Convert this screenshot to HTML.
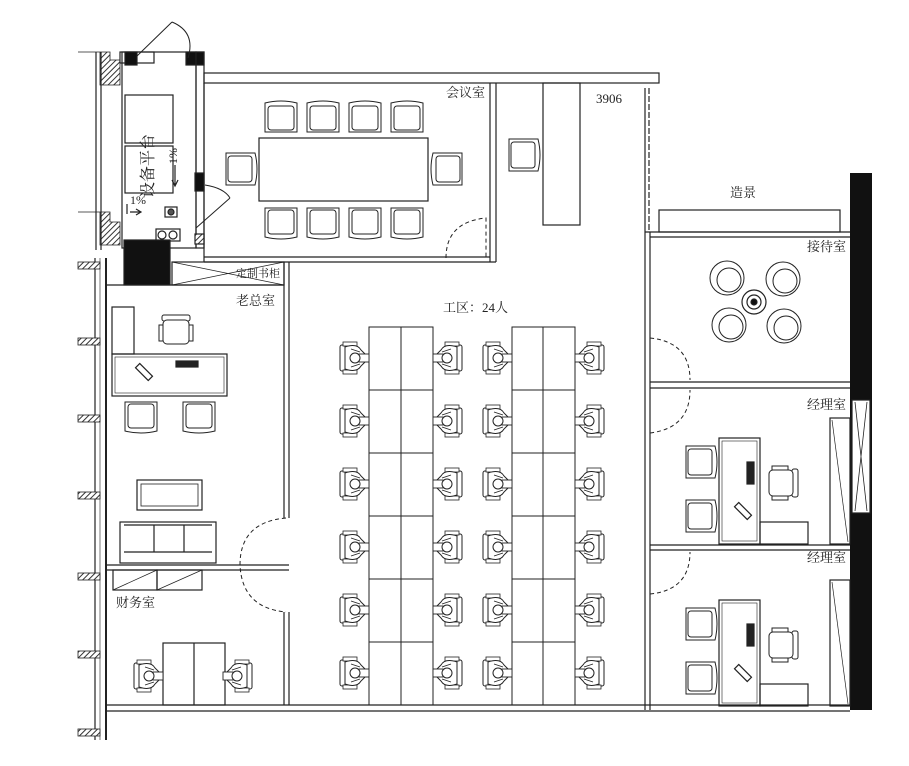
<!DOCTYPE html>
<html><head><meta charset="utf-8"><style>
html,body{margin:0;padding:0;background:#fff;}
svg{display:block;}
text{font-family:"Liberation Serif","Noto Serif CJK SC","Noto Sans CJK SC",serif;font-size:13px;fill:#222;}
</style></head><body>
<svg width="909" height="766" viewBox="0 0 909 766" xmlns="http://www.w3.org/2000/svg">
<defs>
<pattern id="h" width="4" height="4" patternUnits="userSpaceOnUse" patternTransform="rotate(45)"><rect width="4" height="4" fill="#fff"/><line x1="0" y1="0" x2="0" y2="4" stroke="#333" stroke-width="2"/></pattern>
<!-- person at desk, facing right -->
<g id="p">
<rect x="-17" y="-13" width="5" height="26" rx="2" fill="#fff" stroke="#222" stroke-width="1"/>
<rect x="-14" y="-16" width="14" height="4" fill="#fff" stroke="#222" stroke-width="0.8"/>
<rect x="-14" y="12" width="14" height="4" fill="#fff" stroke="#222" stroke-width="0.8"/>
<path d="M-12,-11 Q0,-15 4,-8 L8,-4 L8,4 L4,8 Q0,15 -12,11 Z" fill="#fff" stroke="#222" stroke-width="1"/>
<rect x="2" y="-4" width="10" height="8" fill="#fff" stroke="#222" stroke-width="0.9"/>
<circle cx="-2" cy="0" r="5" fill="#fff" stroke="#222" stroke-width="1"/>
<path d="M-6,-9 L3,-6 M-6,9 L3,6" stroke="#222" stroke-width="0.9"/>
</g>
<!-- armchair facing down (back at top) -->
<g id="c">
<path d="M-16,-15 Q0,-19 16,-15 L16,14 L-16,14 Z" fill="#fff" stroke="#222" stroke-width="1"/>
<rect x="-13" y="-12" width="26" height="24" rx="3" fill="#fff" stroke="#222" stroke-width="1"/>
</g>
<g id="ec">
<rect x="-14" y="-16" width="28" height="6" rx="2" fill="#fff" stroke="#222"/>
<rect x="-13" y="-11" width="26" height="24" rx="4" fill="#fff" stroke="#222"/>
<rect x="-17" y="-6" width="4" height="16" fill="#fff" stroke="#222"/>
<rect x="13" y="-6" width="4" height="16" fill="#fff" stroke="#222"/>
</g>
<g id="rc">
<circle cx="0" cy="0" r="17" fill="#fff" stroke="#222"/>
<circle cx="2" cy="2" r="12" fill="#fff" stroke="#222"/>
</g>
</defs>
<g fill="none" stroke="#222" stroke-width="1.2">

<!-- left exterior wall -->
<line x1="95" y1="258" x2="95" y2="740"/>
<line x1="106" y1="258" x2="106" y2="740" stroke-width="2"/>
<line x1="100" y1="258" x2="100" y2="740" stroke-width="0.6"/>
<g fill="url(#h)" stroke="#222" stroke-width="0.8">
<rect x="78" y="338" width="22" height="7"/><rect x="78" y="415" width="22" height="7"/><rect x="78" y="492" width="22" height="7"/>
<rect x="78" y="573" width="22" height="7"/><rect x="78" y="651" width="22" height="7"/><rect x="78" y="729" width="22" height="7"/>
<rect x="78" y="262" width="22" height="7"/>
<path d="M78,52 L100,52 L100,85 L120,85 L120,60 L110,60 L110,52 Z"/>
<path d="M78,212 L100,212 L100,245 L120,245 L120,222 L110,222 L110,212 Z"/>
</g>
<line x1="96" y1="52" x2="96" y2="250"/><line x1="101" y1="52" x2="101" y2="250"/>

<!-- equipment platform -->
<rect x="122" y="52" width="74" height="196"/>
<rect x="120" y="52" width="34" height="11"/>
<rect x="125" y="95" width="48" height="48"/>
<rect x="125" y="146" width="48" height="47"/>
<rect x="125" y="52" width="12" height="13" fill="#111"/>
<rect x="186" y="52" width="18" height="13" fill="#111"/>
<path d="M137,56 L172,22 M172,22 Q196,32 188,58" stroke-width="1"/>
<rect x="165" y="207" width="12" height="10"/><circle cx="171" cy="212" r="3" fill="#555"/>
<rect x="156" y="229" width="24" height="12"/><circle cx="162" cy="235" r="4"/><circle cx="173" cy="235" r="4"/>
<path d="M175,165 L175,185 M172,180 L175,186 L178,180" />
<path d="M127,204 L127,214 M130,212 L140,212 M136,209 L141,212 L136,215"/>
<rect x="196" y="52" width="8" height="196"/>
<rect x="195" y="173" width="9" height="18" fill="#111"/>
<rect x="195" y="234" width="9" height="10" fill="url(#h)"/>
<path d="M196,228 L230,198 M230,198 Q224,188 205,185" stroke-width="1"/>
<rect x="124" y="240" width="46" height="45" fill="#111"/>

<!-- top wall -->
<rect x="204" y="73" width="455" height="10"/>
<!-- meeting room -->
<line x1="204" y1="83" x2="204" y2="262"/>
<line x1="490" y1="83" x2="490" y2="262"/><line x1="496" y1="83" x2="496" y2="262"/>
<line x1="204" y1="257" x2="490" y2="257"/><line x1="204" y1="262" x2="496" y2="262"/>
<rect x="259" y="138" width="169" height="63"/>
<path d="M446,258 Q446,222 486,218 L486,258" stroke-dasharray="4,3" stroke-width="1"/>

<!-- 3906 area -->
<rect x="543" y="83" width="37" height="142"/>
<line x1="645" y1="88" x2="645" y2="232"/><line x1="649" y1="88" x2="649" y2="232" stroke-dasharray="6,2"/>

<!-- right rooms -->
<line x1="645" y1="232" x2="645" y2="710"/><line x1="650" y1="232" x2="650" y2="710"/>
<line x1="650" y1="237" x2="850" y2="237"/><line x1="645" y1="232" x2="850" y2="232"/>
<rect x="659" y="210" width="181" height="22"/>
<rect x="850" y="173" width="22" height="537" fill="#111" stroke="none"/>
<rect x="852" y="400" width="18" height="113" fill="#fff"/>
<path d="M855,402 L867,511 M867,402 L855,511" stroke-width="0.8"/>
<line x1="650" y1="382" x2="850" y2="382"/><line x1="650" y1="388" x2="850" y2="388"/>
<line x1="650" y1="545" x2="850" y2="545"/><line x1="650" y1="550" x2="850" y2="550"/>
<path d="M650,338 Q690,342 690,380" stroke-dasharray="4,3" stroke-width="1"/>
<path d="M650,433 Q690,428 690,390" stroke-dasharray="4,3" stroke-width="1"/>
<path d="M650,594 Q690,590 690,552" stroke-dasharray="4,3" stroke-width="1"/>

<!-- manager rooms -->
<g>
<rect x="719" y="438" width="41" height="106"/><rect x="722" y="441" width="35" height="100" stroke-width="0.6"/>
<rect x="747" y="462" width="7" height="22" fill="#222"/>
<rect x="760" y="522" width="48" height="22"/>
<rect x="830" y="418" width="20" height="126"/><line x1="832" y1="420" x2="848" y2="542" stroke-width="0.7"/>
<rect x="734" y="508" width="18" height="6" transform="rotate(45 743 511)"/>
</g>
<g transform="translate(0,162)">
<rect x="719" y="438" width="41" height="106"/><rect x="722" y="441" width="35" height="100" stroke-width="0.6"/>
<rect x="747" y="462" width="7" height="22" fill="#222"/>
<rect x="760" y="522" width="48" height="22"/>
<rect x="830" y="418" width="20" height="126"/><line x1="832" y1="420" x2="848" y2="542" stroke-width="0.7"/>
<rect x="734" y="508" width="18" height="6" transform="rotate(45 743 511)"/>
</g>

<!-- bottom wall -->
<line x1="106" y1="705" x2="850" y2="705"/><line x1="106" y1="711" x2="850" y2="711"/>

<!-- boss room -->
<line x1="106" y1="285" x2="284" y2="285"/>
<rect x="172" y="262" width="112" height="23"/>
<path d="M172,262 L284,285 M172,285 L284,262" stroke-width="0.7"/>
<line x1="284" y1="262" x2="284" y2="518"/><line x1="289" y1="262" x2="289" y2="518"/>
<line x1="284" y1="612" x2="284" y2="705"/><line x1="289" y1="612" x2="289" y2="705"/>
<path d="M286,518 Q240,522 240,565 Q242,608 286,612" stroke-dasharray="4,3" stroke-width="1"/>
<line x1="106" y1="565" x2="289" y2="565"/><line x1="106" y1="570" x2="289" y2="570"/>
<rect x="112" y="307" width="22" height="47"/>
<rect x="112" y="354" width="115" height="42"/><rect x="115" y="357" width="109" height="36" stroke-width="0.6"/>
<rect x="176" y="361" width="22" height="6" fill="#222"/>
<rect x="135" y="369" width="18" height="6" transform="rotate(45 144 372)"/>
<rect x="137" y="480" width="65" height="30"/><rect x="141" y="484" width="57" height="22" stroke-width="0.8"/>
<rect x="120" y="522" width="96" height="41"/><line x1="124" y1="525" x2="212" y2="525"/>
<line x1="124" y1="552" x2="212" y2="552"/><line x1="154" y1="525" x2="154" y2="552"/><line x1="184" y1="525" x2="184" y2="552"/>
<!-- finance -->
<rect x="113" y="570" width="44" height="20"/><rect x="157" y="570" width="45" height="20"/>
<path d="M113,590 L157,570 M157,590 L202,570" stroke-width="0.7"/>
<rect x="163" y="643" width="62" height="62"/><line x1="194" y1="643" x2="194" y2="705"/>

<!-- workstations -->
<g stroke-width="1">
<rect x="369" y="327" width="64" height="378"/><line x1="401" y1="327" x2="401" y2="705"/>
<rect x="512" y="327" width="63" height="378"/><line x1="543" y1="327" x2="543" y2="705"/>
<path d="M369,390 H433 M369,453 H433 M369,516 H433 M369,579 H433 M369,642 H433"/>
<path d="M512,390 H575 M512,453 H575 M512,516 H575 M512,579 H575 M512,642 H575"/>
</g>

<!-- reception table -->
<circle cx="754" cy="302" r="12"/><circle cx="754" cy="302" r="7"/><circle cx="754" cy="302" r="3" fill="#111"/>
</g>

<!-- chairs -->
<g>
<use href="#c" x="281" y="118"/><use href="#c" x="323" y="118"/><use href="#c" x="365" y="118"/><use href="#c" x="407" y="118"/>
<use href="#c" x="281" y="222" transform="rotate(180 281 222)"/><use href="#c" x="323" y="222" transform="rotate(180 323 222)"/>
<use href="#c" x="365" y="222" transform="rotate(180 365 222)"/><use href="#c" x="407" y="222" transform="rotate(180 407 222)"/>
<use href="#c" x="240" y="169" transform="rotate(90 240 169)"/><use href="#c" x="448" y="169" transform="rotate(-90 448 169)"/>
<use href="#c" x="523" y="155" transform="rotate(90 523 155)"/>
<use href="#c" x="141" y="416" transform="rotate(180 141 416)"/><use href="#c" x="199" y="416" transform="rotate(180 199 416)"/>
<use href="#ec" x="176" y="331"/>
<use href="#c" x="700" y="462" transform="rotate(90 700 462)"/><use href="#c" x="700" y="516" transform="rotate(90 700 516)"/>
<use href="#c" x="700" y="624" transform="rotate(90 700 624)"/><use href="#c" x="700" y="678" transform="rotate(90 700 678)"/>
<use href="#ec" x="782" y="483" transform="rotate(90 782 483)"/>
<use href="#ec" x="782" y="645" transform="rotate(90 782 645)"/>
<use href="#rc" x="727" y="278"/><use href="#rc" x="783" y="279"/><use href="#rc" x="729" y="325"/><use href="#rc" x="784" y="326"/>
</g>
<g>
<use href="#p" x="357" y="358"/><use href="#p" x="357" y="421"/><use href="#p" x="357" y="484"/><use href="#p" x="357" y="547"/><use href="#p" x="357" y="610"/><use href="#p" x="357" y="673"/>
<use href="#p" x="500" y="358"/><use href="#p" x="500" y="421"/><use href="#p" x="500" y="484"/><use href="#p" x="500" y="547"/><use href="#p" x="500" y="610"/><use href="#p" x="500" y="673"/>
<g transform="translate(888,0) scale(-1,1)">
<use href="#p" x="443" y="358"/><use href="#p" x="443" y="421"/><use href="#p" x="443" y="484"/><use href="#p" x="443" y="547"/><use href="#p" x="443" y="610"/><use href="#p" x="443" y="673"/>
</g>
<g transform="translate(1174,0) scale(-1,1)">
<use href="#p" x="587" y="358"/><use href="#p" x="587" y="421"/><use href="#p" x="587" y="484"/><use href="#p" x="587" y="547"/><use href="#p" x="587" y="610"/><use href="#p" x="587" y="673"/>
</g>
<use href="#p" x="151" y="676"/>
<g transform="translate(470,0) scale(-1,1)"><use href="#p" x="235" y="676"/></g>
</g>

<!-- labels -->
<text x="446" y="97">会议室</text>
<text x="596" y="103">3906</text>
<text x="730" y="197">造景</text>
<text x="807" y="251">接待室</text>
<text x="807" y="409">经理室</text>
<text x="807" y="562">经理室</text>
<text x="443" y="312">工区：24人</text>
<text x="236" y="305">老总室</text>
<text x="116" y="607">财务室</text>
<text x="236" y="277" style="font-size:11px">定制书柜</text>
<text x="0" y="0" transform="translate(153,198) rotate(-90)" style="font-size:16px">设备平台</text>
<text x="130" y="204" style="font-size:12px">1%</text>
<text x="168" y="165" style="font-size:12px" transform="rotate(-90 172 160)">1%</text>
</svg>
</body></html>
